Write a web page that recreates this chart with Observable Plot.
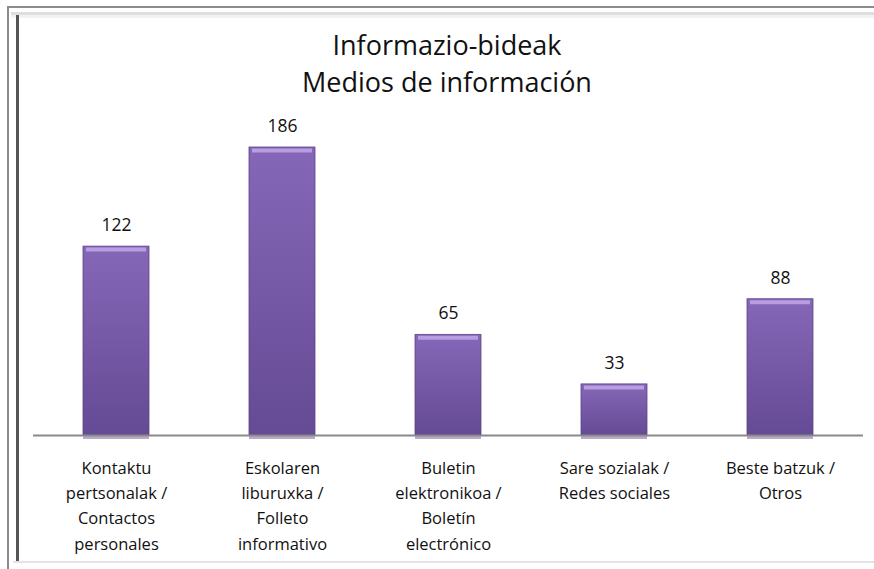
<!DOCTYPE html>
<html>
<head>
<meta charset="utf-8">
<script src="https://cdn.jsdelivr.net/npm/d3@7"></script>
<script src="https://cdn.jsdelivr.net/npm/@observablehq/plot@0.6"></script>
<style>
  html, body { margin: 0; padding: 0; background: #fff; }
  #page { position: relative; width: 874px; height: 569px; overflow: hidden; font-family: "Open Sans", Lato, sans-serif; }
  .ln { position: absolute; }
  #title { position: absolute; left: 20px; width: 854px; top: 26px; text-align: center; font-size: 27px; line-height: 37px; color: #111; }
  #chart { position: absolute; left: 0; top: 100px; }
</style>
</head>
<body>
<div id="page">
  <div class="ln" style="left:7px;top:6px;width:867px;height:2px;background:#8c8c8c"></div>
  <div class="ln" style="left:7px;top:6px;width:2px;height:563px;background:#8c8c8c"></div>
  <div class="ln" style="left:11px;top:12px;width:863px;height:3px;background:#dedede"></div>
  <div class="ln" style="left:11px;top:15px;width:863px;height:3px;background:#f2f2f2"></div>
  <div class="ln" style="left:16px;top:15px;width:3px;height:547px;background:#555"></div>
  <div class="ln" style="left:13px;top:561px;width:861px;height:2px;background:#e4e4e4"></div>
  <div id="title">Informazio-bideak<br>Medios de información</div>
  <div id="chart"></div>
</div>
<script>
const categories = [
  "Kontaktu\npertsonalak /\nContactos\npersonales",
  "Eskolaren\nliburuxka /\nFolleto\ninformativo",
  "Buletin\nelektronikoa /\nBoletín\nelectrónico",
  "Sare sozialak /\nRedes sociales",
  "Beste batzuk /\nOtros"
];
const values = [122, 186, 65, 33, 88];

const data = categories.map((c, i) => ({category: c, value: values[i]}));

const chart = Plot.plot({
  width: 874,
  height: 469,
  marginLeft: 33,
  marginRight: 11,
  marginTop: 47,
  marginBottom: 134,
  style: {fontFamily: "'Open Sans', Lato, sans-serif", background: "transparent"},
  x: {domain: categories, paddingInner: 0.6, paddingOuter: 0.3, label: null},
  y: {domain: [0, 186], axis: null},
  marks: [
    Plot.tickY(data, {x: "category", y: 0, stroke: "#b7abc9", strokeWidth: 3, dy: 2}),
    Plot.barY(data, {x: "category", y: "value", fill: "url(#barGrad)", stroke: "#5b4488", strokeWidth: 0.8}),
    Plot.tickY(data, {x: "category", y: "value", stroke: "#b89ee0", strokeWidth: 4, dy: 3, inset: 3}),
    Plot.ruleY([0], {stroke: "#8a8a8a", strokeWidth: 2}),
    Plot.text(data, {x: "category", y: "value", text: d => String(d.value), dy: -21, fontSize: 17.5, fill: "#111"}),
    Plot.axisX({tickSize: 0, tickPadding: 21, fontSize: 16.5, lineHeight: 1.52, fill: "#111", label: null, textAnchor: "middle", lineAnchor: "top"})
  ]
});

const defs = d3.select(chart).insert("defs", ":first-child");
const g = defs.append("linearGradient").attr("id", "barGrad").attr("x1", 0).attr("y1", 0).attr("x2", 0).attr("y2", 1);
g.append("stop").attr("offset", "0%").attr("stop-color", "#8567b7");
g.append("stop").attr("offset", "100%").attr("stop-color", "#654a95");

document.getElementById("chart").appendChild(chart);
</script>
</body>
</html>
